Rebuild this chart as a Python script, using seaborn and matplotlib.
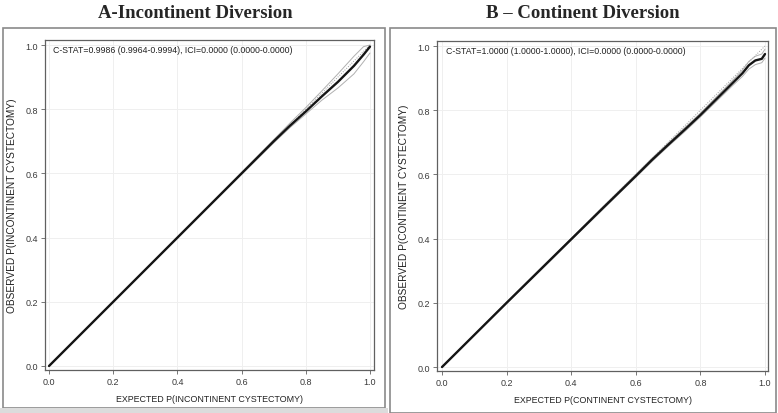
import numpy as np
import pandas as pd
import matplotlib
matplotlib.use('Agg')
import matplotlib.pyplot as plt
import seaborn as sns
from matplotlib.patches import Rectangle

# calibration curves
exp_a = [0, 0.1, 0.2, 0.3, 0.4, 0.5, 0.6, 0.7, 0.75, 0.8, 0.85, 0.9, 0.95, 0.98, 1.0]
obs_a = [0, 0.1, 0.2, 0.3, 0.4, 0.5, 0.6, 0.7, 0.748, 0.793, 0.84, 0.885, 0.935, 0.97, 0.995]
low_a = [0, 0.099, 0.199, 0.299, 0.398, 0.498, 0.597, 0.695, 0.742, 0.785, 0.828, 0.866, 0.91, 0.948, 0.975]
up_a = [0, 0.101, 0.201, 0.301, 0.402, 0.502, 0.603, 0.705, 0.756, 0.805, 0.857, 0.91, 0.965, 0.995, 1.0]

exp_b = [0, 0.1, 0.2, 0.3, 0.4, 0.5, 0.6, 0.65, 0.7, 0.75, 0.8, 0.85, 0.9, 0.93, 0.95, 0.97, 0.99, 1.0]
obs_b = [0, 0.1, 0.2, 0.299, 0.398, 0.497, 0.595, 0.645, 0.692, 0.738, 0.785, 0.835, 0.885, 0.915, 0.94, 0.955, 0.96, 0.975]
low_b = [0, 0.099, 0.198, 0.296, 0.395, 0.493, 0.591, 0.64, 0.687, 0.732, 0.779, 0.828, 0.877, 0.905, 0.928, 0.942, 0.948, 0.962]
up_b = [0, 0.101, 0.202, 0.302, 0.401, 0.501, 0.6, 0.65, 0.697, 0.744, 0.791, 0.842, 0.893, 0.925, 0.952, 0.968, 0.975, 0.99]

titles = ['A-Incontinent Diversion', 'B \u2013 Continent Diversion']
stats = ['C-STAT=0.9986 (0.9964-0.9994), ICI=0.0000 (0.0000-0.0000)',
         'C-STAT=1.0000 (1.0000-1.0000), ICI=0.0000 (0.0000-0.0000)']
xlabels = ['EXPECTED P(INCONTINENT CYSTECTOMY)', 'EXPECTED P(CONTINENT CYSTECTOMY)']
ylabels = ['OBSERVED P(INCONTINENT CYSTECTOMY)', 'OBSERVED P(CONTINENT CYSTECTOMY)']
ticks = [0.0, 0.2, 0.4, 0.6, 0.8, 1.0]

sns.set_style('white')
plt.rcParams['font.family'] = ['Liberation Sans', 'DejaVu Sans']

W, H = 778, 414
fig = plt.figure(figsize=(W / 100, H / 100), dpi=100)

# outer frames (pixel coords: left, top, right, bottom)
for l, t, r, b in [(3, 29, 385, 409), (390, 29, 776, 414)]:
    fig.patches.append(Rectangle((l / W, 1 - b / H), (r - l) / W, (b - t) / H,
                                 transform=fig.transFigure, fill=False,
                                 edgecolor='#8a8a8a', lw=1.2))
fig.patches.append(Rectangle((0, 0), 388 / W, 5 / H, transform=fig.transFigure,
                             facecolor='#dcdcdc', edgecolor='none'))

axes_px = [(45, 41, 374, 371), (437, 42, 768, 372)]
lims = [((-0.0125, 1.0125), (-0.0125, 1.0156)),
        ((-0.0155, 1.0093), (-0.0124, 1.0156))]
title_x = [195, 583]
curves = [(exp_a, obs_a, low_a, up_a), (exp_b, obs_b, low_b, up_b)]

for i in range(2):
    l, t, r, b = axes_px[i]
    ax = fig.add_axes([l / W, 1 - b / H, (r - l) / W, (b - t) / H])
    ex, ob, lo, up = curves[i]
    d = pd.DataFrame({'exp': ex, 'obs': ob, 'low': lo, 'up': up})
    ax.plot([0, 1], [0, 1], ls=(0, (1, 1.5)), color='#9a9a9a', lw=0.7, zorder=2)
    sns.lineplot(data=d, x='exp', y='low', ax=ax, color='#b0b0b0', lw=0.7)
    sns.lineplot(data=d, x='exp', y='up', ax=ax, color='#b0b0b0', lw=0.7)
    sns.lineplot(data=d, x='exp', y='obs', ax=ax, color='#151515', lw=1.7)
    ax.set_xlim(*lims[i][0])
    ax.set_ylim(*lims[i][1])
    ax.set_xticks(ticks)
    ax.set_yticks(ticks)
    ax.set_xticklabels([f'{v:.1f}' for v in ticks])
    ax.set_yticklabels([f'{v:.1f}' for v in ticks])
    ax.grid(True, color='#efefef', lw=0.7)
    ax.set_axisbelow(True)
    for s in ax.spines.values():
        s.set_color('#606060')
        s.set_linewidth(0.9)
    ax.tick_params(axis='both', length=3, width=0.6, color='#606060',
                   labelsize=6.5, labelcolor='#3a3a3a', pad=2, direction='out')
    ax.tick_params(bottom=True, left=True)
    ax.set_xlabel(xlabels[i], fontsize=6.4, color='#222222', labelpad=6)
    ax.set_ylabel(ylabels[i], fontsize=7.3, color='#222222', labelpad=6)
    ax.text(0.0125, 0.985, stats[i], fontsize=6.3, color='#222222',
            ha='left', va='center', transform=ax.transData)
    fig.text(title_x[i] / W, 1 - 13 / H, titles[i], fontsize=13.5,
             fontweight='bold', family='Liberation Serif', ha='center',
             va='center')

fig.savefig('out.png', dpi=100)
